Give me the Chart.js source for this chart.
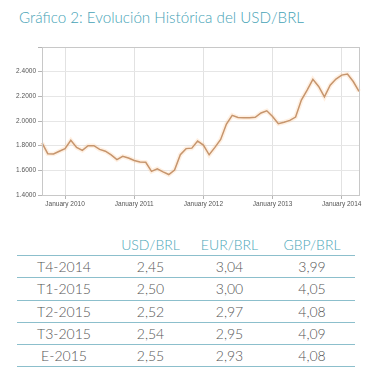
<!DOCTYPE html>
<html>
<head>
<meta charset="utf-8">
<script src="https://cdn.jsdelivr.net/npm/chart.js@4"></script>
<style>
  html, body { margin: 0; padding: 0; background: #fff; }
  body { width: 374px; height: 390px; position: relative; overflow: hidden; font-family: "Lato", "Noto Sans", sans-serif; }
  #title { position: absolute; left: 19px; top: 8px; font-size: 15.2px; color: #46a3b6; font-weight: 300; }
  #chartBox { position: absolute; left: 0; top: 0; width: 374px; height: 220px; }
  table { position: absolute; left: 17px; top: 234px; width: 338px; border-collapse: collapse; font-size: 14px; color: #555; font-weight: 300; }
  th { color: #4aa6b8; font-weight: 300; height: 21px; text-align: center; padding: 0; }
  td { height: 21.3px; text-align: center; padding: 0; border-bottom: 1.5px solid #8cbfcc; }
  tr.head th { border-bottom: 1.5px solid #8cbfcc; }
</style>
</head>
<body>
<div id="title">Gráfico 2: Evolución Histórica del USD/BRL</div>
<div id="chartBox"><canvas id="fx" width="374" height="220"></canvas></div>
<table id="tbl"></table>
<script>
// ── Monthly USD/BRL, Sep 2009 → Apr 2014 ────────────────────────────────────
const MONTHS = ['January','February','March','April','May','June','July','August','September','October','November','December'];
const months = [];
for (let y = 2009, m = 8; months.length < 56; m++) {
  if (m > 11) { m = 0; y++; }
  months.push(MONTHS[m] + ' ' + y);
}
const usdBrl = [
  1.822, 1.735, 1.733, 1.755,
  1.776, 1.843, 1.786, 1.762, 1.800, 1.800, 1.770, 1.755, 1.725, 1.687, 1.713, 1.700,
  1.680, 1.668, 1.665, 1.592, 1.612, 1.587, 1.566, 1.603, 1.727, 1.776, 1.780, 1.837,
  1.805, 1.726, 1.786, 1.850, 1.975, 2.046, 2.028, 2.027, 2.027, 2.030, 2.065, 2.083,
  2.037, 1.978, 1.990, 2.005, 2.032, 2.170, 2.250, 2.338, 2.280, 2.195, 2.290, 2.340,
  2.372, 2.380, 2.320, 2.240
];
const yTicks = [1.4, 1.6, 1.8, 2.0, 2.2, 2.4];

// ── Forecast table ──────────────────────────────────────────────────────────
const tableCols = ['USD/BRL', 'EUR/BRL', 'GBP/BRL'];
const tableRows = ['T4-2014', 'T1-2015', 'T2-2015', 'T3-2015', 'E-2015'];
const usdRow = ['2,45', '2,50', '2,52', '2,54', '2,55'];
const eurRow = ['3,04', '3,00', '2,97', '2,95', '2,93'];
const gbpRow = ['3,99', '4,05', '4,08', '4,09', '4,08'];

const tbl = document.getElementById('tbl');
let html = '<colgroup><col style="width:94px"><col style="width:79px"><col style="width:79px"><col style="width:86px"></colgroup>';
html += '<tr class="head"><th></th>' + tableCols.map(c => `<th>${c}</th>`).join('') + '</tr>';
tableRows.forEach((r, i) => {
  html += `<tr><td>${r}</td><td>${usdRow[i]}</td><td>${eurRow[i]}</td><td>${gbpRow[i]}</td></tr>`;
});
tbl.innerHTML = html;

// frame around the plot area (top + right edges)
const framePlugin = {
  id: 'frame',
  afterDraw(chart) {
    const { ctx, chartArea: a } = chart;
    ctx.save();
    ctx.strokeStyle = '#c8c8c8';
    ctx.lineWidth = 1;
    ctx.strokeRect(a.left + 0.5, a.top + 0.5, a.right - a.left, a.bottom - a.top);
    ctx.restore();
  },
};

const isJan = i => months[i] && months[i].startsWith('January');

new Chart(document.getElementById('fx'), {
  type: 'line',
  data: {
    labels: months,
    datasets: [
      { data: usdBrl, borderColor: '#c6956d', borderWidth: 1.5, pointRadius: 0, tension: 0, order: 0 },
      { data: usdBrl, borderColor: 'rgba(255,195,140,0.25)', borderWidth: 4.5, pointRadius: 0, tension: 0, order: 1 },
    ],
  },
  plugins: [framePlugin],
  options: {
    responsive: false,
    animation: false,
    devicePixelRatio: 1,
    layout: { padding: { top: 47, right: 15, left: 0, bottom: 0 } },
    plugins: { legend: { display: false }, tooltip: { enabled: false } },
    scales: {
      x: {
        type: 'category',
        offset: false,
        afterFit: s => { s.height = 25; },
        border: { color: '#b5b5b5' },
        grid: {
          color: c => isJan(c.index) ? '#e2e2e2' : 'rgba(0,0,0,0)',
          tickColor: c => isJan(c.index) ? '#b5b5b5' : 'rgba(0,0,0,0)',
          tickLength: 4,
        },
        ticks: {
          autoSkip: false,
          maxRotation: 0,
          padding: 1,
          color: '#555',
          font: { family: 'Arial, "Liberation Sans"', size: 6.5 },
          callback: (v, i) => isJan(i) ? months[i] : '',
        },
      },
      y: {
        min: 1.4,
        max: 2.6,
        afterFit: s => { s.width = 42; },
        afterBuildTicks: s => { s.ticks = yTicks.concat([2.6]).map(v => ({ value: v })); },
        border: { color: '#b5b5b5' },
        grid: { color: '#e6e6e6', tickColor: '#b5b5b5', tickLength: 4 },
        ticks: {
          padding: 2,
          color: '#555',
          font: { family: 'Arial, "Liberation Sans"', size: 6.5 },
          callback: v => yTicks.includes(Math.round(v * 10) / 10) && v < 2.5 ? v.toFixed(4) : '',
        },
      },
    },
  },
});
</script>
</body>
</html>
